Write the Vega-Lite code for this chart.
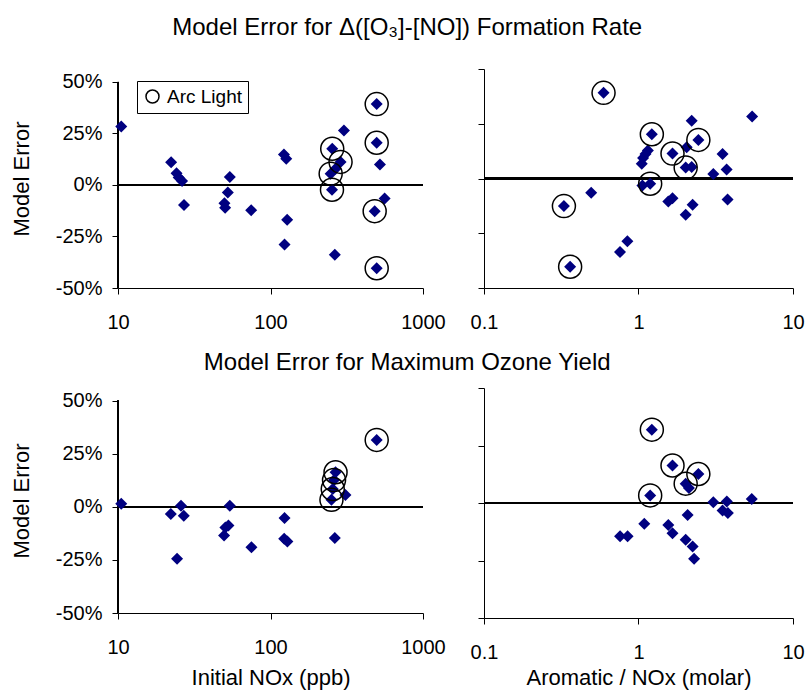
{
  "$schema": "https://vega.github.io/schema/vega-lite/v6.json",
  "background": "white",
  "padding": {"left": 10, "top": 15, "right": 5, "bottom": 2},
  "config": {
    "view": {"stroke": null},
    "font": "Liberation Sans",
    "title": {"font": "Liberation Sans", "fontSize": 24, "fontWeight": "normal", "color": "black", "anchor": "middle"},
    "axis": {"grid": false, "domainColor": "black", "tickColor": "black", "tickSize": 6, "domainWidth": 1, "tickWidth": 1,
      "labelFont": "Liberation Sans", "labelFontSize": 20, "labelColor": "black", "labelFlush": false,
      "titleFont": "Liberation Sans", "titleFontSize": 22, "titleFontWeight": "normal", "titleColor": "black"},
    "axisX": {"labelPadding": 18, "titlePadding": 8},
    "axisY": {"labelPadding": 10, "titlePadding": 22}
  },
  "datasets": {
    "tl": [
      {"nox": 10.5, "err": 28.4, "arc": 0}, {"nox": 22.3, "err": 11.0, "arc": 0}, {"nox": 24.2, "err": 5.7, "arc": 0},
      {"nox": 25.0, "err": 3.7, "arc": 0}, {"nox": 26.3, "err": 1.9, "arc": 0}, {"nox": 27.1, "err": -9.7, "arc": 0},
      {"nox": 49.9, "err": -8.8, "arc": 0}, {"nox": 50.4, "err": -11.0, "arc": 0}, {"nox": 52.5, "err": -3.7, "arc": 0},
      {"nox": 54.1, "err": 3.9, "arc": 0}, {"nox": 74.7, "err": -12.2, "arc": 0}, {"nox": 122.5, "err": 14.8, "arc": 0},
      {"nox": 126.9, "err": 12.7, "arc": 0}, {"nox": 123.6, "err": -28.9, "arc": 0}, {"nox": 128.6, "err": -16.9, "arc": 0},
      {"nox": 253, "err": -2.3, "arc": 1}, {"nox": 254, "err": 17.6, "arc": 1}, {"nox": 248, "err": 5.5, "arc": 1},
      {"nox": 288, "err": 11.2, "arc": 1}, {"nox": 267, "err": 7.9, "arc": 0}, {"nox": 264, "err": -33.9, "arc": 0},
      {"nox": 303, "err": 26.5, "arc": 0}, {"nox": 497, "err": 39.3, "arc": 1}, {"nox": 497, "err": 20.5, "arc": 1},
      {"nox": 522, "err": 9.9, "arc": 0}, {"nox": 482, "err": -12.7, "arc": 1}, {"nox": 497, "err": -40.4, "arc": 1},
      {"nox": 560, "err": -6.5, "arc": 0}
    ],
    "tr": [
      {"ratio": 0.594, "err": 39.1, "arc": 1}, {"ratio": 0.329, "err": -12.6, "arc": 1}, {"ratio": 0.361, "err": -40.3, "arc": 1},
      {"ratio": 0.494, "err": -6.5, "arc": 0}, {"ratio": 0.759, "err": -33.6, "arc": 0}, {"ratio": 0.847, "err": -28.7, "arc": 0},
      {"ratio": 1.05, "err": 6.7, "arc": 0}, {"ratio": 1.07, "err": 9.4, "arc": 0}, {"ratio": 1.11, "err": 11.2, "arc": 0},
      {"ratio": 1.15, "err": 12.8, "arc": 0}, {"ratio": 1.22, "err": 20.2, "arc": 1}, {"ratio": 1.19, "err": -2.4, "arc": 1},
      {"ratio": 1.06, "err": -3.2, "arc": 0}, {"ratio": 1.56, "err": -10.5, "arc": 0}, {"ratio": 1.66, "err": -9.0, "arc": 0},
      {"ratio": 1.66, "err": 11.4, "arc": 1}, {"ratio": 2.02, "err": -16.6, "arc": 0}, {"ratio": 2.02, "err": 5.0, "arc": 1},
      {"ratio": 2.21, "err": 5.3, "arc": 0}, {"ratio": 2.05, "err": 14.3, "arc": 0}, {"ratio": 2.21, "err": 26.4, "arc": 0},
      {"ratio": 2.44, "err": 17.6, "arc": 1}, {"ratio": 2.24, "err": -12.0, "arc": 0}, {"ratio": 3.05, "err": 2.1, "arc": 0},
      {"ratio": 3.5, "err": 11.2, "arc": 0}, {"ratio": 3.72, "err": 4.1, "arc": 0}, {"ratio": 3.77, "err": -9.6, "arc": 0},
      {"ratio": 5.44, "err": 28.3, "arc": 0}
    ],
    "bl": [
      {"nox": 10.5, "err": 1.4, "arc": 0}, {"nox": 22.2, "err": -3.4, "arc": 0}, {"nox": 24.4, "err": -24.5, "arc": 0},
      {"nox": 25.9, "err": 0.5, "arc": 0}, {"nox": 27.0, "err": -4.2, "arc": 0}, {"nox": 49.6, "err": -13.5, "arc": 0},
      {"nox": 50.6, "err": -9.7, "arc": 0}, {"nox": 53.0, "err": -8.8, "arc": 0}, {"nox": 54.1, "err": 0.5, "arc": 0},
      {"nox": 75.0, "err": -19.0, "arc": 0}, {"nox": 123.6, "err": -5.3, "arc": 0}, {"nox": 123.0, "err": -15.0, "arc": 0},
      {"nox": 129.0, "err": -16.3, "arc": 0}, {"nox": 267, "err": 16.3, "arc": 1}, {"nox": 261, "err": 12.6, "arc": 1},
      {"nox": 256, "err": 8.4, "arc": 1}, {"nox": 251, "err": 3.3, "arc": 1}, {"nox": 264, "err": -14.7, "arc": 0},
      {"nox": 310, "err": 5.6, "arc": 0}, {"nox": 497, "err": 31.5, "arc": 1}
    ],
    "br": [
      {"ratio": 1.22, "err": 31.9, "arc": 1}, {"ratio": 1.66, "err": 16.3, "arc": 1}, {"ratio": 2.44, "err": 12.6, "arc": 1},
      {"ratio": 2.02, "err": 8.4, "arc": 1}, {"ratio": 2.12, "err": 6.5, "arc": 0}, {"ratio": 1.19, "err": 3.3, "arc": 1},
      {"ratio": 3.05, "err": 0.3, "arc": 0}, {"ratio": 3.73, "err": 0.7, "arc": 0}, {"ratio": 3.5, "err": -3.3, "arc": 0},
      {"ratio": 3.79, "err": -4.4, "arc": 0}, {"ratio": 5.41, "err": 1.7, "arc": 0}, {"ratio": 2.08, "err": -5.2, "arc": 0},
      {"ratio": 1.09, "err": -9.0, "arc": 0}, {"ratio": 1.56, "err": -9.6, "arc": 0}, {"ratio": 1.66, "err": -13.2, "arc": 0},
      {"ratio": 0.76, "err": -14.5, "arc": 0}, {"ratio": 0.85, "err": -14.5, "arc": 0}, {"ratio": 2.02, "err": -16.0, "arc": 0},
      {"ratio": 2.24, "err": -18.9, "arc": 0}, {"ratio": 2.29, "err": -24.2, "arc": 0}
    ]
  },
  "spacing": 18,
  "resolve": {"scale": {"shape": "independent"}, "legend": {"shape": "independent"}},
  "vconcat": [
    {
      "title": {"text": "Model Error for Δ([O₃]-[NO]) Formation Rate", "offset": 29, "anchor": "middle"},
      "spacing": 24,
      "resolve": {"scale": {"shape": "independent"}, "legend": {"shape": "independent"}},
      "hconcat": [
        {
          "width": 305, "height": 219,
          "data": {"name": "tl"},
          "layer": [
            {"mark": {"type": "rule", "color": "black", "strokeWidth": 1.5}, "encoding": {"y": {"datum": 0, "type": "quantitative"}}},
            {"mark": {"type": "rule", "color": "black", "strokeWidth": 1}, "encoding": {"x": {"datum": 10, "type": "quantitative"}, "y": {"datum": -50, "type": "quantitative"}, "y2": {"datum": 50}}},
            {"mark": {"type": "point", "shape": "diamond", "filled": true, "color": "#000080", "size": 144, "opacity": 1},
             "encoding": {
               "x": {"field": "nox", "type": "quantitative", "scale": {"type": "log", "domain": [10, 1000]}, "axis": {"values": [10, 100, 1000], "format": "~g", "title": null}},
               "y": {"field": "err", "type": "quantitative", "scale": {"domain": [-50, 56.31], "nice": false, "zero": false}, "axis": {"values": [-50, -25, 0, 25, 50], "labelExpr": "datum.value + '%'", "title": "Model Error", "domain": false}}
             }},
            {"transform": [{"filter": "datum.arc == 1"}],
             "mark": {"type": "point", "filled": false, "color": "black", "strokeWidth": 1.5, "size": 529, "opacity": 1},
             "encoding": {
               "x": {"field": "nox", "type": "quantitative"},
               "y": {"field": "err", "type": "quantitative"},
               "shape": {"datum": "Arc Light", "scale": {"range": ["circle"]},
                 "legend": {"title": null, "orient": "none", "legendX": 19, "legendY": 12, "strokeColor": "black", "padding": 6,
                   "labelFontSize": 19, "labelFont": "Liberation Sans", "labelColor": "black", "symbolSize": 169, "symbolStrokeWidth": 1.5,
                   "symbolStrokeColor": "black", "symbolFillColor": "transparent", "labelOffset": 5, "fillColor": "white"}}
             }}
          ]
        },
        {
          "width": 309, "height": 219,
          "data": {"name": "tr"},
          "layer": [
            {"mark": {"type": "rule", "color": "black", "strokeWidth": 1.5}, "encoding": {"y": {"datum": 0, "type": "quantitative"}}},
            {"mark": {"type": "point", "shape": "diamond", "filled": true, "color": "#000080", "size": 144, "opacity": 1},
             "encoding": {
               "x": {"field": "ratio", "type": "quantitative", "scale": {"type": "log", "domain": [0.1, 10]}, "axis": {"values": [0.1, 1, 10], "format": "~g", "title": null}},
               "y": {"field": "err", "type": "quantitative", "scale": {"domain": [-50, 50], "nice": false}, "axis": {"values": [-50, -25, 0, 25, 50], "labels": false, "title": null}}
             }},
            {"transform": [{"filter": "datum.arc == 1"}],
             "mark": {"type": "point", "shape": "circle", "filled": false, "color": "black", "strokeWidth": 1.5, "size": 529, "opacity": 1},
             "encoding": {
               "x": {"field": "ratio", "type": "quantitative"},
               "y": {"field": "err", "type": "quantitative"}
             }}
          ]
        }
      ]
    },
    {
      "title": {"text": "Model Error for Maximum Ozone Yield", "offset": 13, "anchor": "middle"},
      "spacing": 24,
      "hconcat": [
        {
          "width": 305, "height": 225,
          "data": {"name": "bl"},
          "layer": [
            {"mark": {"type": "rule", "color": "black", "strokeWidth": 1.5}, "encoding": {"y": {"datum": 0, "type": "quantitative"}}},
            {"mark": {"type": "rule", "color": "black", "strokeWidth": 1}, "encoding": {"x": {"datum": 10, "type": "quantitative"}, "y": {"datum": -50, "type": "quantitative"}, "y2": {"datum": 50}}},
            {"mark": {"type": "point", "shape": "diamond", "filled": true, "color": "#000080", "size": 144, "opacity": 1},
             "encoding": {
               "x": {"field": "nox", "type": "quantitative", "scale": {"type": "log", "domain": [10, 1000]}, "axis": {"values": [10, 100, 1000], "format": "~g", "title": "Initial NOx (ppb)", "titlePadding": 10}},
               "y": {"field": "err", "type": "quantitative", "scale": {"domain": [-50, 55.97], "nice": false, "zero": false}, "axis": {"values": [-50, -25, 0, 25, 50], "labelExpr": "datum.value + '%'", "title": "Model Error", "domain": false}}
             }},
            {"transform": [{"filter": "datum.arc == 1"}],
             "mark": {"type": "point", "shape": "circle", "filled": false, "color": "black", "strokeWidth": 1.5, "size": 529, "opacity": 1},
             "encoding": {
               "x": {"field": "nox", "type": "quantitative"},
               "y": {"field": "err", "type": "quantitative"}
             }}
          ]
        },
        {
          "width": 309, "height": 230,
          "data": {"name": "br"},
          "layer": [
            {"mark": {"type": "rule", "color": "black", "strokeWidth": 1.5}, "encoding": {"y": {"datum": 0, "type": "quantitative"}}},
            {"mark": {"type": "point", "shape": "diamond", "filled": true, "color": "#000080", "size": 144, "opacity": 1},
             "encoding": {
               "x": {"field": "ratio", "type": "quantitative", "scale": {"type": "log", "domain": [0.1, 10]}, "axis": {"values": [0.1, 1, 10], "format": "~g", "title": "Aromatic / NOx (molar)", "titlePadding": 5}},
               "y": {"field": "err", "type": "quantitative", "scale": {"domain": [-50, 50], "nice": false}, "axis": {"values": [-50, -25, 0, 25, 50], "labels": false, "title": null}}
             }},
            {"transform": [{"filter": "datum.arc == 1"}],
             "mark": {"type": "point", "shape": "circle", "filled": false, "color": "black", "strokeWidth": 1.5, "size": 529, "opacity": 1},
             "encoding": {
               "x": {"field": "ratio", "type": "quantitative"},
               "y": {"field": "err", "type": "quantitative"}
             }}
          ]
        }
      ]
    }
  ]
}
